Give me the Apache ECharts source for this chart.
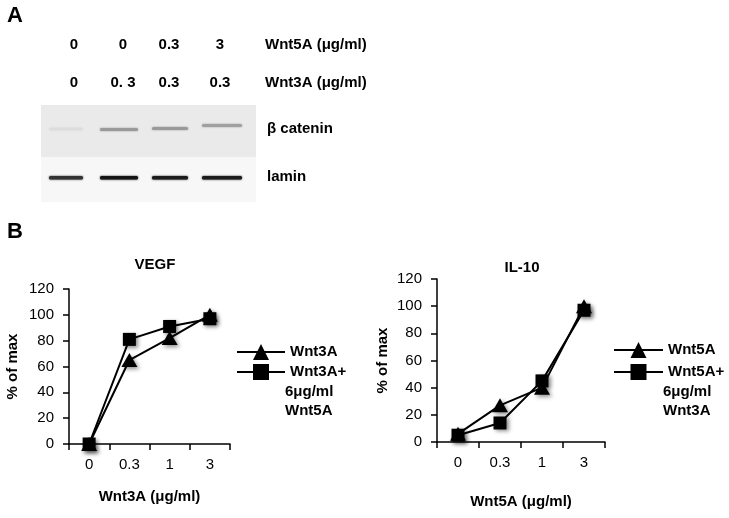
<!DOCTYPE html>
<html><head><meta charset="utf-8">
<script src="https://cdn.jsdelivr.net/npm/echarts@6/dist/echarts.min.js"></script>
<style>html,body{margin:0;padding:0;background:#fff}#c{width:729px;height:518px}</style>
</head><body><div id="c"></div>
<script>
// ---- data ----
const doses = ['0', '0.3', '1', '3'];
const vegfWnt3A = [0, 65, 82, 100];
const vegfWnt3AWnt5A = [0, 81, 91, 97];
const il10Wnt5A = [6, 27, 40, 100];
const il10Wnt5AWnt3A = [5, 14, 45, 97];
const blotWnt5A = ['0', '0', '0.3', '3'];
const blotWnt3A = ['0', '0. 3', '0.3', '0.3'];
const bCateninIntensity = [0.06, 0.36, 0.36, 0.33];
const laminIntensity = [0.82, 0.95, 0.92, 0.92];

const FONT = 'Liberation Sans';
const chart = echarts.init(document.getElementById('c'), null, {renderer: 'canvas'});

// ---- panel A (blot, drawn as decoration) ----
const laneX = [66, 119, 170, 222];
const laneW = [34, 38, 36, 40];
const g = [];
g.push({type: 'rect', shape: {x: 41, y: 105, width: 215, height: 52}, style: {fill: '#eaeaea'}, z: 1});
g.push({type: 'rect', shape: {x: 41, y: 157, width: 215, height: 45}, style: {fill: '#f7f7f7'}, z: 1});
function gray(i) { const v = Math.round(234 - 225 * i); return 'rgb(' + v + ',' + v + ',' + v + ')'; }
const bcY = [129, 129.5, 128.5, 125.5];
bCateninIntensity.forEach((v, i) => {
  g.push({type: 'rect', shape: {x: laneX[i] - laneW[i] / 2, y: bcY[i] - 1.5, width: laneW[i], height: 3, r: 1.5},
    style: {fill: gray(v), shadowBlur: 2, shadowColor: gray(v)}, z: 2});
});
laminIntensity.forEach((v, i) => {
  g.push({type: 'rect', shape: {x: laneX[i] - laneW[i] / 2, y: 176, width: laneW[i], height: 3.5, r: 1.5},
    style: {fill: gray(v), shadowBlur: 2, shadowColor: gray(v)}, z: 2});
});
function T(x, y, s, opts) {
  opts = opts || {};
  g.push({type: 'text', x: x, y: y, z: 5, style: {text: s, fill: '#000', font: 'bold ' + (opts.size || 15) + 'px "' + FONT + '"',
    textAlign: opts.align || 'left', textVerticalAlign: 'middle'}});
}
T(7, 16, 'A', {size: 22});
T(7, 232, 'B', {size: 22});
const colX = [74, 123, 169, 220];
blotWnt5A.forEach((s, i) => T(colX[i], 45, s, {align: 'center'}));
blotWnt3A.forEach((s, i) => T(colX[i], 83, s, {align: 'center'}));
T(265, 45, 'Wnt5A (\u03bcg/ml)');
T(265, 83, 'Wnt3A (\u03bcg/ml)');
T(267, 129, '\u03b2 catenin');
T(267, 177, 'lamin');
// legend continuation lines
T(285, 392, '6\u03bcg/ml');
T(285, 411, 'Wnt5A');
T(663, 392, '6\u03bcg/ml');
T(663, 411, 'Wnt3A');

// ---- panel B (charts) ----
const axisLine = {show: true, lineStyle: {color: '#000', width: 1.5}};
const axisTick = {show: true, length: 6, lineStyle: {color: '#000', width: 1.5}};
const labelStyle = {color: '#000', fontFamily: FONT, fontSize: 15};
const nameStyle = {color: '#000', fontFamily: FONT, fontSize: 15, fontWeight: 'bold'};

function xAx(idx, name, gap) {
  return {type: 'category', gridIndex: idx, data: doses, boundaryGap: true,
    axisLine, axisTick: Object.assign({alignWithLabel: false}, axisTick),
    axisLabel: Object.assign({margin: 13}, labelStyle),
    name, nameLocation: 'middle', nameGap: gap, nameTextStyle: nameStyle, splitLine: {show: false}};
}
function yAx(idx, gap) {
  return {type: 'value', gridIndex: idx, min: 0, max: 120, interval: 20,
    axisLine, axisTick, axisLabel: Object.assign({margin: 15}, labelStyle), splitLine: {show: false},
    name: '% of max', nameLocation: 'middle', nameGap: gap, nameTextStyle: nameStyle};
}
const itemStyle = {color: '#000', shadowBlur: 4, shadowColor: 'rgba(0,0,0,0.45)', shadowOffsetX: 2, shadowOffsetY: 2};
function ser(name, idx, data, symbol, size) {
  return {type: 'line', name, xAxisIndex: idx, yAxisIndex: idx, data, symbol, symbolSize: size,
    lineStyle: {color: '#000', width: 2}, itemStyle, showSymbol: true, animation: false};
}
const legendText = {color: '#000', fontFamily: FONT, fontSize: 15, fontWeight: 'bold'};

const option = {
  backgroundColor: '#fff',
  animation: false,
  textStyle: {fontFamily: FONT},
  title: [
    {text: 'VEGF', left: 150, top: 252, textAlign: 'center', textStyle: nameStyle},
    {text: 'IL-10', left: 517, top: 255, textAlign: 'center', textStyle: nameStyle}
  ],
  grid: [
    {left: 69, top: 289, width: 161, height: 155, containLabel: false},
    {left: 437, top: 279, width: 168, height: 163, containLabel: false}
  ],
  xAxis: [xAx(0, 'Wnt3A (\u03bcg/ml)', 45), xAx(1, 'Wnt5A (\u03bcg/ml)', 52)],
  yAxis: [yAx(0, 49), yAx(1, 47)],
  legend: [
    {data: ['Wnt3A', 'Wnt3A+ 6\u03bcg/ml Wnt5A'], orient: 'vertical', left: 231, top: 339, itemWidth: 48, itemHeight: 20, itemGap: 4,
      formatter: n => n.split(' ')[0], textStyle: legendText, selectedMode: false},
    {data: ['Wnt5A', 'Wnt5A+ 6\u03bcg/ml Wnt3A'], orient: 'vertical', left: 608, top: 337, itemWidth: 49, itemHeight: 20, itemGap: 6,
      formatter: n => n.split(' ')[0], textStyle: legendText, selectedMode: false}
  ],
  series: [
    ser('Wnt3A', 0, vegfWnt3A, 'triangle', [16, 14]),
    ser('Wnt3A+ 6\u03bcg/ml Wnt5A', 0, vegfWnt3AWnt5A, 'rect', 13),
    ser('Wnt5A', 1, il10Wnt5A, 'triangle', [16, 14]),
    ser('Wnt5A+ 6\u03bcg/ml Wnt3A', 1, il10Wnt5AWnt3A, 'rect', 13)
  ],
  graphic: g
};
chart.setOption(option);
</script>
</body></html>
